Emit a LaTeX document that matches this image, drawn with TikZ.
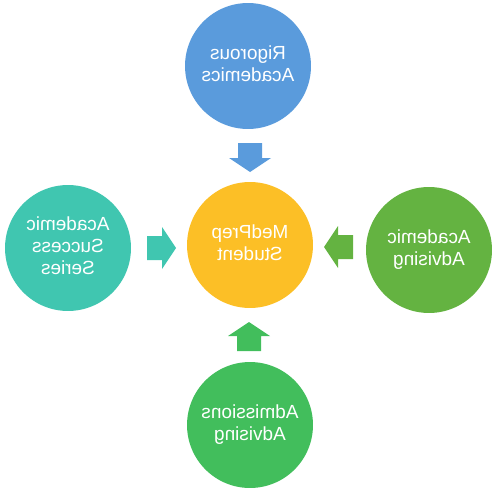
\documentclass[tikz,border=0pt]{standalone}
\usepackage{fontspec}
\setmainfont{Liberation Sans}
\definecolor{cblue}{HTML}{5A9BDC}
\definecolor{cyellow}{HTML}{FCBF26}
\definecolor{cteal}{HTML}{40C6B0}
\definecolor{cgreenR}{HTML}{64B341}
\definecolor{cgreenB}{HTML}{42BE5C}
\tikzset{
  bubble/.style={circle, minimum size=2.52cm, inner sep=0pt, text=white,
    font=\fontsize{10.8}{12.6}\selectfont, align=center},
  pics/blockarrow/.style={code={
    \fill[#1] (-14,-12) -- (1,-12) -- (1,-21) -- (15,0) -- (1,21) -- (1,12) -- (-14,12) -- cycle;
  }}
}
\newcommand{\mirtext}[1]{\reflectbox{\begin{tabular}{@{}c@{}}#1\end{tabular}}}
\begin{document}
\begin{tikzpicture}[x=0.02cm,y=-0.02cm]
\useasboundingbox (0,0) rectangle (500,500);
\node[bubble, fill=cblue] (top) at (248,66) {\mirtext{Rigorous\\Academics}};
\node[bubble, fill=cyellow] (mid) at (250,245) {\mirtext{MedPrep\\Student}};
\node[bubble, fill=cteal] (left) at (68,248) {\mirtext{Academic\\Success\\Series}};
\node[bubble, fill=cgreenR] (right) at (429,250) {\mirtext{Academic\\Advising}};
\node[bubble, fill=cgreenB] (bot) at (250,425) {\mirtext{Admissions\\Advising}};
\pic[rotate=-90] at (250,157) {blockarrow=cblue};
\pic at (161,248) {blockarrow=cteal};
\pic[rotate=180] at (339,247) {blockarrow=cgreenR};
\pic[rotate=90] at (249,337) {blockarrow=cgreenB};
\end{tikzpicture}
\end{document}
